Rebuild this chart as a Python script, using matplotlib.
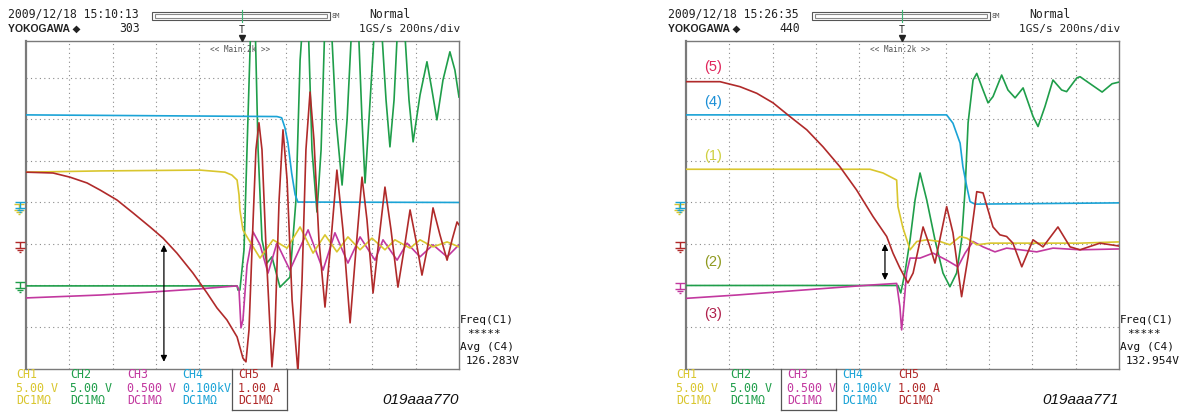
import matplotlib
matplotlib.use('Agg')
import matplotlib.pyplot as plt
from matplotlib.path import Path
from matplotlib.lines import Line2D
from matplotlib.patches import Rectangle

W, H = 1184, 412

# channel settings printed under each screen
ch_names = ['CH1', 'CH2', 'CH3', 'CH4', 'CH5']
ch_scales = ['5.00 V', '5.00 V', '0.500 V', '0.100kV', '1.00 A']
ch_coupling = ['DC1MΩ', 'DC1MΩ', 'DC1MΩ', 'DC1MΩ', 'DC1MΩ']
ch_colors = ['#d9c62e', '#1f9e4a', '#c2389f', '#1aa3d6', '#b02a2a']

# ---- screen 1 (019aaa770): time in ns, level in divisions from screen bottom
s1_ch1_t = [0, 342, 804, 919, 951, 975, 984, 988, 1002, 1021, 1081, 1141, 1206, 1266,
            1326, 1381, 1436, 1487, 1543, 1598, 1658, 1704, 1774, 1820, 1880, 1945, 2000]
s1_ch1_v = [4.73, 4.76, 4.78, 4.73, 4.66, 4.54, 4.18, 3.82, 3.34, 3.17, 2.66, 3.10, 2.90, 3.41,
            2.78, 3.22, 2.81, 3.17, 2.86, 3.14, 2.86, 3.10, 2.90, 3.10, 2.93, 3.05, 2.93]
s1_ch2_t = [0, 975, 979, 988, 1007, 1025, 1039, 1058, 1072, 1090, 1113, 1136, 1173, 1219,
            1247, 1266, 1279, 1303, 1321, 1344, 1363, 1381, 1409, 1432, 1460, 1483, 1506,
            1534, 1552, 1566, 1584, 1612, 1640, 1663, 1681, 1700, 1718, 1746, 1769, 1788,
            1820, 1852, 1875, 1898, 1926, 1958, 1981, 2000]
s1_ch2_v = [1.99, 1.99, 1.89, 1.89, 2.86, 5.99, 8.4, 8.4, 5.27, 3.10, 2.54, 2.69, 1.96, 2.20,
            4.06, 7.43, 8.4, 8.4, 5.27, 3.77, 5.27, 8.4, 8.4, 5.99, 4.42, 5.99, 8.4,
            8.4, 5.99, 4.47, 5.99, 8.4, 8.4, 6.47, 5.34, 6.47, 8.4, 8.4, 6.47, 5.46,
            6.59, 7.39, 6.71, 5.99, 6.95, 7.63, 7.19, 6.54]
s1_ch3_t = [0, 342, 573, 804, 975, 984, 993, 1002, 1021, 1049, 1081, 1118, 1159, 1219,
            1303, 1372, 1427, 1487, 1543, 1612, 1649, 1714, 1760, 1820, 1880, 1945, 2000]
s1_ch3_v = [1.70, 1.77, 1.84, 1.92, 1.99, 1.89, 0.98, 1.17, 2.49, 3.29, 2.98, 2.30, 3.02, 2.37,
            3.34, 2.37, 3.27, 2.54, 3.17, 2.61, 3.10, 2.61, 3.02, 2.69, 2.98, 2.69, 2.98]
s1_ch4_t = [0, 1159, 1181, 1196, 1210, 1227, 1243, 1256, 2000]
s1_ch4_v = [6.11, 6.07, 6.04, 5.80, 5.43, 4.71, 4.19, 4.01, 4.00]
s1_ch5_t = [0, 125, 203, 282, 342, 420, 494, 573, 633, 697, 771, 836, 882, 928, 975, 1002,
            1016, 1030, 1049, 1062, 1076, 1090, 1109, 1136, 1150, 1169, 1187, 1206, 1229,
            1256, 1275, 1293, 1312, 1330, 1353, 1381, 1409, 1436, 1464, 1497, 1524, 1552,
            1575, 1603, 1630, 1658, 1686, 1718, 1746, 1774, 1801, 1829, 1857, 1880, 1912,
            1945, 1968, 1991, 2000]
s1_ch5_v = [4.73, 4.71, 4.61, 4.47, 4.30, 4.06, 3.75, 3.41, 3.14, 2.78, 2.30, 1.82, 1.46, 1.17,
            0.76, 0.25, 0.16, 0.93, 3.58, 5.27, 5.92, 5.27, 2.86, 0.04, 0.93, 4.06, 5.75,
            4.54, 1.65, -0.08, 2.13, 5.27, 6.66, 5.51, 3.10, 1.48, 3.10, 4.78, 3.34, 1.10,
            2.86, 4.61, 3.58, 1.82, 3.10, 4.37, 3.34, 1.96, 2.86, 3.82, 3.10, 2.25, 2.98,
            3.87, 3.22, 2.61, 3.10, 3.53, 3.46]
s1_ground = [3.85, 1.97, None, 3.90, 2.93]
s1_arrow_t = 637
s1_arrow_v = [2.98, 0.16]

# ---- screen 2 (019aaa771)
s2_ch1_t = [0, 850, 910, 973, 979, 1002, 1035, 1066, 1112, 1173, 1219, 1266, 1297, 1343,
            1404, 1510, 1666, 1820, 2000]
s2_ch1_v = [4.80, 4.80, 4.71, 4.54, 3.90, 3.39, 2.86, 3.06, 3.10, 3.06, 2.98, 3.18, 3.14, 2.98,
            3.02, 3.02, 3.02, 3.02, 3.05]
s2_ch2_t = [0, 979, 992, 1011, 1035, 1058, 1081, 1112, 1150, 1187, 1219, 1250, 1273, 1289,
            1303, 1326, 1343, 1372, 1395, 1418, 1458, 1487, 1520, 1557, 1603, 1626, 1658,
            1695, 1735, 1758, 1805, 1820, 1875, 1922, 1968, 2000]
s2_ch2_v = [2.00, 2.00, 1.82, 2.30, 3.10, 4.06, 4.71, 4.06, 3.10, 2.30, 1.97, 2.30, 3.10, 4.30,
            5.92, 6.95, 7.11, 6.71, 6.40, 6.55, 7.07, 6.71, 6.52, 6.76, 6.07, 5.83, 6.31,
            6.95, 6.71, 6.67, 7.00, 7.03, 6.83, 6.66, 6.86, 6.90]
s2_ch3_t = [0, 234, 540, 850, 973, 988, 996, 1002, 1019, 1035, 1081, 1141, 1204, 1256,
            1289, 1326, 1372, 1427, 1481, 1543, 1620, 1695, 1820, 2000]
s2_ch3_v = [1.69, 1.77, 1.89, 2.01, 2.05, 1.49, 0.93, 1.25, 2.30, 2.66, 2.66, 2.78, 2.61, 2.45,
            2.78, 3.06, 2.93, 2.81, 2.90, 2.86, 2.81, 2.90, 2.86, 2.88]
s2_ch4_t = [0, 1204, 1233, 1266, 1279, 1297, 1312, 1335, 2000]
s2_ch4_v = [6.11, 6.11, 5.91, 5.43, 4.86, 4.38, 4.02, 3.96, 3.99]
s2_ch5_t = [0, 157, 249, 327, 402, 480, 558, 633, 711, 788, 864, 927, 956, 988, 1025, 1049,
            1095, 1127, 1150, 1204, 1233, 1273, 1303, 1343, 1372, 1418, 1450, 1481, 1510,
            1551, 1603, 1649, 1718, 1774, 1820, 1912, 2000]
s2_ch5_v = [6.91, 6.91, 6.79, 6.63, 6.40, 6.07, 5.75, 5.34, 4.86, 4.30, 3.66, 3.18, 2.78, 2.42,
            2.06, 2.30, 3.41, 2.93, 2.54, 3.90, 3.27, 1.73, 2.69, 4.26, 4.23, 3.41, 3.22,
            3.18, 3.02, 2.45, 3.10, 2.93, 3.41, 2.93, 2.86, 3.02, 2.95]
s2_ground = [3.85, None, 1.94, 3.90, 2.93]
s2_arrow_t = 919
s2_arrow_v = [3.00, 2.13]
s2_labels = ['(5)', '(4)', '(1)', '(2)', '(3)']
s2_label_v = [7.27, 6.42, 5.13, 2.57, 1.31]
s2_label_colors = ['#e0245a', '#1c8fd6', '#cfd040', '#8f9a1e', '#b0204c']

MONO = 'DejaVu Sans Mono'


def fx(x):
    return x / W


def fy(y):
    return 1 - y / H


# ground symbol used as a marker
ground = Path([(-1, 1), (1, 1), (0, 1), (0, -0.3), (-1, -0.3), (1, -0.3),
               (-0.6, -0.65), (0.6, -0.65), (-0.25, -1), (0.25, -1)],
              [Path.MOVETO, Path.LINETO, Path.MOVETO, Path.LINETO, Path.MOVETO, Path.LINETO,
               Path.MOVETO, Path.LINETO, Path.MOVETO, Path.LINETO])


def draw_screen(fig, dx, traces, grounds, stamp, count, avg, boxed, ident):
    ax = fig.add_axes([fx(26 + dx), fy(368.5), 433 / W, 327.5 / H])
    ax.set_xlim(0, 2000)
    ax.set_ylim(0, 7.89)
    ax.set_xticks([])
    ax.set_yticks([])
    for s in ax.spines.values():
        s.set_color('#7a7a7a')
        s.set_linewidth(1.0)
    ax.spines['left'].set_linewidth(1.6)
    for gx in range(200, 2000, 200):
        ax.axvline(gx, color='#8a8a8a', lw=0.8, ls=(0, (1, 3)), zorder=1)
    for gy in range(1, 8):
        ax.axhline(gy, color='#8a8a8a', lw=0.8, ls=(0, (1, 3)), zorder=1)

    # draw order: CH2, CH4, CH3, CH1, CH5
    for i in [1, 3, 2, 0, 4]:
        t, v = traces[i]
        ax.plot(t, v, color=ch_colors[i], lw=1.2, zorder=3, solid_joinstyle='round')

    for i, g in enumerate(grounds):
        if g is None:
            continue
        off = -34 if i == 0 else -28
        ax.plot([off], [g], marker=ground, ms=7, mew=1.0, color=ch_colors[i],
                clip_on=False, zorder=4)

    ax.text(0.495, 0.975, '<< Main:2k >>', transform=ax.transAxes, ha='center', va='center',
            family=MONO, size=5.5, color='#555555')

    # header
    fig.text(fx(8 + dx), fy(14), stamp, family=MONO, size=8.3, va='center', color='#222222')
    fig.text(fx(8 + dx), fy(29), 'YOKOGAWA ◆', family=['Liberation Sans', 'DejaVu Sans'],
             weight='bold', size=7.5, va='center', color='#222222')
    fig.text(fx(140 + dx), fy(29), count, family=MONO, size=8.3, va='center', ha='right',
             color='#222222')
    fig.add_artist(Rectangle((fx(152 + dx), fy(20)), 178 / W, 8 / H, transform=fig.transFigure,
                             fill=False, ec='#555555', lw=0.8))
    fig.add_artist(Rectangle((fx(155 + dx), fy(18)), 172 / W, 4 / H, transform=fig.transFigure,
                             fill=False, ec='#8a8a8a', lw=0.8))
    fig.add_artist(Line2D([fx(242 + dx)] * 2, [fy(10), fy(22)], transform=fig.transFigure,
                          color='#3cb371', lw=0.8))
    fig.text(fx(332 + dx), fy(16), '8M', family=MONO, size=5, va='center', color='#555555')
    fig.text(fx(242 + dx), fy(30), 'T', family=MONO, size=7, va='center', ha='center',
             color='#222222')
    fig.add_artist(Line2D([fx(242 + dx)], [fy(38)], transform=fig.transFigure, marker='v',
                          ms=4, color='#222222', lw=0))
    fig.text(fx(369 + dx), fy(14), 'Normal', family=MONO, size=8.3, va='center', color='#222222')
    fig.text(fx(460 + dx), fy(29), '1GS/s 200ns/div', family=MONO, size=8, va='center',
             ha='right', color='#222222')

    # channel table
    cols = [16, 70, 127, 182, 238]
    for i in range(5):
        for y, s in zip([374, 388, 401], [ch_names[i], ch_scales[i], ch_coupling[i]]):
            fig.text(fx(cols[i] + dx), fy(y), s, family=MONO, size=8.4, va='center',
                     color=ch_colors[i])
    bx = cols[boxed] - 6 + dx
    for xs, ys in [([bx, bx], [368.5, 410]), ([bx + 55, bx + 55], [368.5, 410]),
                   ([bx, bx + 55], [410, 410])]:
        fig.add_artist(Line2D([fx(x) for x in xs], [fy(y) for y in ys],
                              transform=fig.transFigure, color='#555555', lw=0.9))

    # measurements
    for y, s, x in [(320, 'Freq(C1)', 460), (334, '*****', 467), (347, 'Avg (C4)', 460),
                    (361, avg, 466)]:
        fig.text(fx(x + dx), fy(y), s, family=MONO, size=8, va='center', color='#111111')

    fig.text(fx(459 + dx), fy(400), ident, family='Liberation Sans', style='italic', size=11,
             ha='right', va='center', color='#111111')
    return ax


fig = plt.figure(figsize=(W / 100, H / 100), dpi=100)

s1 = [(s1_ch1_t, s1_ch1_v), (s1_ch2_t, s1_ch2_v), (s1_ch3_t, s1_ch3_v),
      (s1_ch4_t, s1_ch4_v), (s1_ch5_t, s1_ch5_v)]
ax1 = draw_screen(fig, 0, s1, s1_ground, '2009/12/18 15:10:13', '303', '126.283V', 4,
                  '019aaa770')
ax1.annotate('', xy=(s1_arrow_t, s1_arrow_v[0]), xytext=(s1_arrow_t, s1_arrow_v[1]),
             arrowprops=dict(arrowstyle='<|-|>', color='black', lw=0.9,
                             mutation_scale=9, shrinkA=0, shrinkB=0), zorder=5)

s2 = [(s2_ch1_t, s2_ch1_v), (s2_ch2_t, s2_ch2_v), (s2_ch3_t, s2_ch3_v),
      (s2_ch4_t, s2_ch4_v), (s2_ch5_t, s2_ch5_v)]
ax2 = draw_screen(fig, 660, s2, s2_ground, '2009/12/18 15:26:35', '440', '132.954V', 2,
                  '019aaa771')
ax2.annotate('', xy=(s2_arrow_t, s2_arrow_v[0]), xytext=(s2_arrow_t, s2_arrow_v[1]),
             arrowprops=dict(arrowstyle='<|-|>', color='black', lw=0.9,
                             mutation_scale=9, shrinkA=0, shrinkB=0), zorder=5)
for s, v, c in zip(s2_labels, s2_label_v, s2_label_colors):
    ax2.text(125, v, s, color=c, ha='center', va='center', size=10.5,
             family='Liberation Sans', zorder=6)

fig.savefig('out.png', dpi=100)
